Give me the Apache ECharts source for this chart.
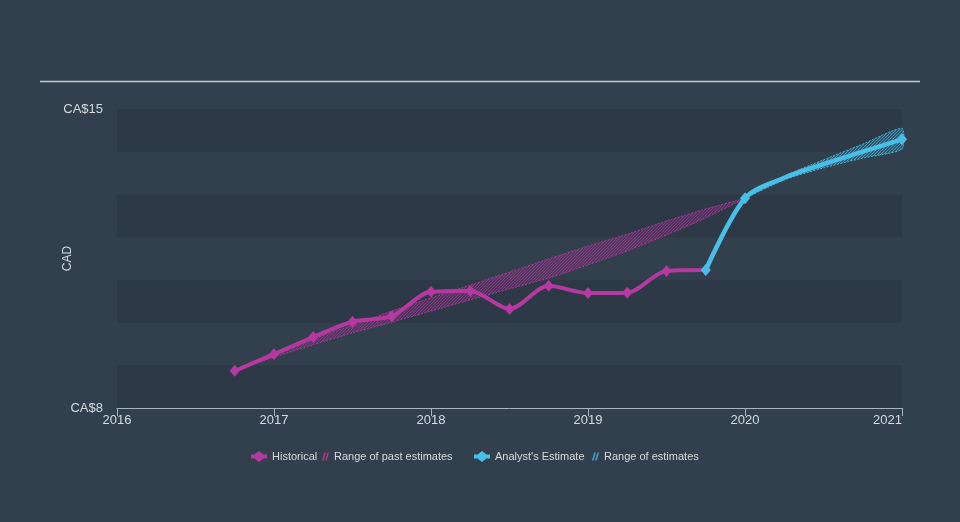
<!DOCTYPE html>
<html><head><meta charset="utf-8">
<script src="https://cdn.jsdelivr.net/npm/echarts@6/dist/echarts.min.js"></script>
<style>html,body{margin:0;padding:0;background:#323f4d;} #c{width:960px;height:522px;}</style>
</head><body><div id="c"></div>
<script>
// ---- data ----
const yearTicks = [2016, 2017, 2018, 2019, 2020, 2021];
const yTickLabels = { 8: 'CA$8', 15: 'CA$15' };

const histX = [2016.75, 2017.0, 2017.25, 2017.5, 2017.75, 2018.0, 2018.25, 2018.5, 2018.75, 2019.0, 2019.25, 2019.5, 2019.75];
const histY = [8.87, 9.26, 9.66, 10.02, 10.15, 10.72, 10.74, 10.32, 10.86, 10.69, 10.70, 11.21, 11.23];

const pastRangeX    = [2016.75, 2017.0, 2017.25, 2017.5, 2017.75, 2018.0, 2018.25, 2018.5, 2018.75, 2019.0, 2019.25, 2019.5, 2019.75, 2020.0];
const pastRangeLow  = [8.87, 9.19, 9.48, 9.76, 10.01, 10.27, 10.53, 10.79, 11.04, 11.35, 11.68, 12.05, 12.45, 12.91];
const pastRangeHigh = [8.87, 9.29, 9.62, 9.94, 10.27, 10.58, 10.88, 11.18, 11.49, 11.79, 12.07, 12.38, 12.66, 12.91];

const estX = [2019.75, 2020.0, 2021.0];           // reported estimate points (with markers)
const estY = [11.23, 12.91, 14.29];
const estCurveX = [2020.25, 2020.5, 2020.75];     // path of the estimate line between markers
const estCurveY = [13.39, 13.71, 14.00];

const estRangeX    = [2020.0, 2020.25, 2020.5, 2020.75, 2021.0];
const estRangeLow  = [12.91, 13.34, 13.62, 13.85, 14.06];
const estRangeHigh = [12.91, 13.43, 13.81, 14.18, 14.55];

// ---- styling ----
const MAG = '#b5399f';
const CYAN = '#48bfe6';
const TXT = '#d6dadf';
const FONT = '"Liberation Sans", Arial, sans-serif';

function hatch(color) {
  const c = document.createElement('canvas');
  c.width = 3; c.height = 3;
  const g = c.getContext('2d');
  g.strokeStyle = color; g.lineWidth = 1.1;
  g.beginPath();
  g.moveTo(0, 3); g.lineTo(3, 0);
  g.moveTo(-1, 1); g.lineTo(1, -1);
  g.moveTo(2, 4); g.lineTo(4, 2);
  g.stroke();
  return c;
}

function bandRender(xs, lo, hi, color, pat) {
  return function (params, api) {
    const pts = [];
    for (let i = 0; i < xs.length; i++) pts.push(api.coord([xs[i], hi[i]]));
    for (let i = xs.length - 1; i >= 0; i--) pts.push(api.coord([xs[i], lo[i]]));
    return {
      type: 'polygon',
      shape: { points: pts, smooth: 0.2 },
      style: { fill: { image: pat, repeat: 'repeat' }, stroke: color, lineWidth: 1, lineDash: [2, 1.5] }
    };
  };
}

const histData = histX.map((x, i) => [x, histY[i]]);
const estAll = estX.map((x, i) => ({ value: [x, estY[i]], symbol: 'diamond' }))
  .concat(estCurveX.map((x, i) => ({ value: [x, estCurveY[i]], symbol: 'none' })))
  .sort((a, b) => a.value[0] - b.value[0]);

const diamondIcon = 'path://M0,3.5 L3.5,3.5 L8,0 L12.5,3.5 L16,3.5 L16,7.5 L12.5,7.5 L8,11 L3.5,7.5 L0,7.5 Z';
const hatchIcon = 'path://M0,8 L1.8,8 L4,0 L2.2,0 Z M3.2,8 L5,8 L7.2,0 L5.4,0 Z';

function mkLegend(left, name, icon, w, h, color) {
  return {
    left: left, top: 451, padding: 0, itemWidth: w, itemHeight: h, itemGap: 0,
    selectedMode: false,
    textStyle: { color: TXT, fontSize: 11, fontFamily: FONT },
    data: [{ name: name, icon: icon, itemStyle: { color: color } }]
  };
}

const chart = echarts.init(document.getElementById('c'));
chart.setOption({
  backgroundColor: '#323f4d',
  animation: false,
  textStyle: { fontFamily: FONT },
  grid: { left: 117, right: 58, top: 109, bottom: 114 },
  graphic: [{
    type: 'line', shape: { x1: 40, y1: 81.5, x2: 920, y2: 81.5 },
    style: { stroke: '#c5cad0', lineWidth: 1.5 }
  }],
  legend: [
    mkLegend(251, 'Historical', diamondIcon, 16, 11, MAG),
    mkLegend(322, 'Range of past estimates', hatchIcon, 7, 8, '#a33a92'),
    mkLegend(474, "Analyst's Estimate", diamondIcon, 16, 11, CYAN),
    mkLegend(592, 'Range of estimates', hatchIcon, 7, 8, '#3f9cc4')
  ],
  xAxis: {
    type: 'value', min: yearTicks[0], max: yearTicks[yearTicks.length - 1], interval: 1,
    axisLine: { show: true, lineStyle: { color: '#a9b4c0', width: 1 } },
    axisTick: { show: true, length: 8, lineStyle: { color: '#a9b4c0' } },
    axisLabel: { color: TXT, fontSize: 13, margin: 6, formatter: v => String(v), alignMaxLabel: 'right' },
    splitLine: { show: false }
  },
  yAxis: {
    type: 'value', min: 8, max: 15, interval: 1,
    name: 'CAD', nameLocation: 'middle', nameGap: 43, nameMoveOverlap: false,
    nameTextStyle: { color: TXT, fontSize: 12 },
    axisLine: { show: false }, axisTick: { show: false },
    axisLabel: { color: TXT, fontSize: 13, margin: 14, formatter: v => yTickLabels[v] || '' },
    splitLine: { show: false },
    splitArea: { show: true, areaStyle: { color: ['#2d3947', '#323f4d'] } }
  },
  series: [
    {
      name: 'Range of past estimates', type: 'custom', z: 2,
      renderItem: bandRender(pastRangeX, pastRangeLow, pastRangeHigh, 'rgba(181,57,159,0.85)', hatch('rgba(170,52,152,0.8)')),
      data: [[pastRangeX[0], pastRangeLow[0]]],
      itemStyle: { color: '#a33a92' }
    },
    {
      name: 'Range of estimates', type: 'custom', z: 2,
      renderItem: bandRender(estRangeX, estRangeLow, estRangeHigh, 'rgba(72,191,230,0.85)', hatch('rgba(72,180,220,0.8)')),
      data: [[estRangeX[0], estRangeLow[0]]],
      itemStyle: { color: '#3f9cc4' }
    },
    {
      name: 'Historical', type: 'line', z: 3, data: histData, smooth: 0.3,
      symbol: 'diamond', symbolSize: [10, 12], showAllSymbol: true, clip: false,
      lineStyle: { color: MAG, width: 4 }, itemStyle: { color: MAG }
    },
    {
      name: "Analyst's Estimate", type: 'line', z: 4, data: estAll, smooth: 0.3,
      symbol: 'diamond', symbolSize: [10, 12], showAllSymbol: true, clip: false,
      lineStyle: { color: CYAN, width: 4.5 }, itemStyle: { color: CYAN }
    }
  ]
});
</script></body></html>
